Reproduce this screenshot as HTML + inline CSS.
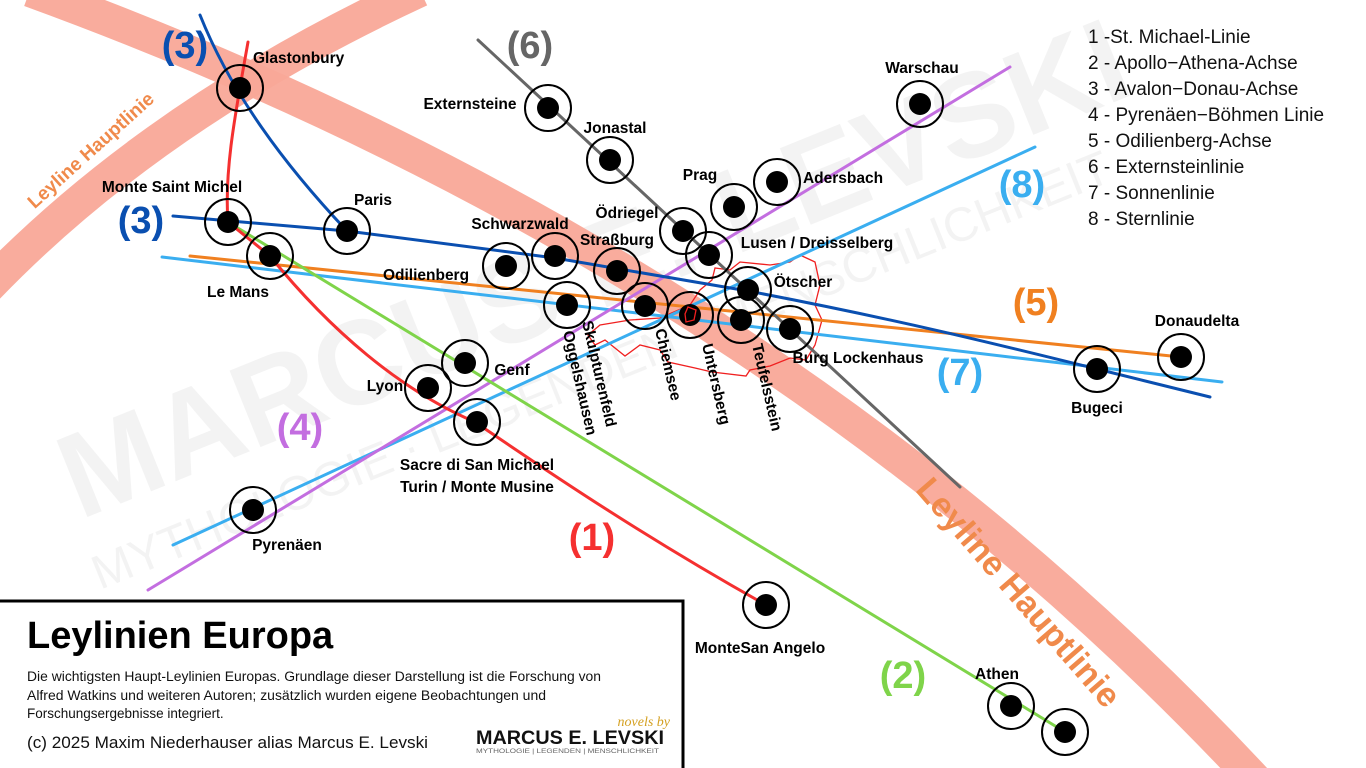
<!DOCTYPE html>
<html><head><meta charset="utf-8"><style>
html,body{margin:0;padding:0;background:#fff;width:1366px;height:768px;overflow:hidden}
svg{display:block;font-family:"Liberation Sans","DejaVu Sans",sans-serif}
.l{font-weight:bold;font-size:15.5px;fill:#000}
</style></head><body>
<svg width="1366" height="768" viewBox="0 0 1366 768">
<!-- watermark -->
<g fill="#000" opacity="0.045" font-weight="bold">
<text x="80" y="520" font-size="120" transform="rotate(-22 80 520)">MARCUS E. LEVSKI</text>
<text x="100" y="590" font-size="48" font-weight="normal" transform="rotate(-22 100 590)">MYTHOLOGIE · LEGENDEN · MENSCHLICHKEIT</text>
</g>
<!-- leyline bands -->
<path d="M30,-10 Q770,260 1255,780" stroke="#f9a898" stroke-width="34" fill="none" opacity="0.95"/>
<path d="M-20,295 Q150,115 420,-10" stroke="#f9a898" stroke-width="34" fill="none" opacity="0.95"/>
<text x="95" y="155" font-size="19" font-weight="bold" fill="#f08a4b" text-anchor="middle" transform="rotate(-42 95 155)">Leyline Hauptlinie</text>
<text x="1010" y="600" font-size="34" font-weight="bold" fill="#f08a4b" text-anchor="middle" transform="rotate(49 1010 600)">Leyline Hauptlinie</text>
<!-- Austria outline -->
<path d="M600,325 L630,320 L660,318 L690,305 L700,290 L712,280 L715,268 L730,270 L740,262 L770,265 L790,262 L800,255 L815,262 L820,285 L815,305 L822,320 L815,345 L806,360 L790,358 L770,366 L750,370 L746,376 L712,372 L695,368 L668,362 L660,350 L640,345 L625,356 L605,340 L595,345 L588,335 Z" fill="none" stroke="#f02020" stroke-width="1.3"/>
<!-- lines -->
<g fill="none" stroke-width="3" stroke-linecap="round">
<path d="M173,545 L1035,147" stroke="#3aaef0"/>
<path d="M162,257 L1222,382" stroke="#3aaef0"/>
<path d="M190,256 L1181,357" stroke="#f08020"/>
<path d="M148,590 L1010,67" stroke="#c36ee0"/>
<path d="M228,222 L1065,732" stroke="#7fd44a"/>
<path d="M478,40 L960,487" stroke="#666"/>
<path d="M248,42 C236,110 224,170 228,222 L270,256 C330,330 400,390 475,422 C560,480 650,540 766,605" stroke="#f53030"/>
<path d="M200,15 C230,90 280,160 347,231" stroke="#0a4fb0"/>
<path d="M173,216 L347,231 L555,258 L748,291 C900,320 1000,345 1097,369 L1210,397" stroke="#0a4fb0"/>
</g>
<!-- nodes -->
<g stroke="#000" stroke-width="2" fill="none">
<circle cx="240" cy="88" r="23"/><circle cx="228" cy="222" r="23"/><circle cx="270" cy="256" r="23"/><circle cx="347" cy="231" r="23"/>
<circle cx="548" cy="108" r="23"/><circle cx="610" cy="160" r="23"/><circle cx="920" cy="104" r="23"/><circle cx="734" cy="207" r="23"/>
<circle cx="777" cy="182" r="23"/><circle cx="683" cy="231" r="23"/><circle cx="709" cy="255" r="23"/><circle cx="555" cy="256" r="23"/>
<circle cx="617" cy="271" r="23"/><circle cx="506" cy="266" r="23"/><circle cx="748" cy="290" r="23"/><circle cx="567" cy="305" r="23"/>
<circle cx="645" cy="306" r="23"/><circle cx="690" cy="315" r="23"/><circle cx="741" cy="320" r="23"/><circle cx="790" cy="329" r="23"/>
<circle cx="465" cy="363" r="23"/><circle cx="428" cy="388" r="23"/><circle cx="477" cy="422" r="23"/><circle cx="253" cy="510" r="23"/>
<circle cx="766" cy="605" r="23"/><circle cx="1097" cy="369" r="23"/><circle cx="1181" cy="357" r="23"/><circle cx="1011" cy="706" r="23"/><circle cx="1065" cy="732" r="23"/>
</g>
<g fill="#000">
<circle cx="240" cy="88" r="11"/><circle cx="228" cy="222" r="11"/><circle cx="270" cy="256" r="11"/><circle cx="347" cy="231" r="11"/>
<circle cx="548" cy="108" r="11"/><circle cx="610" cy="160" r="11"/><circle cx="920" cy="104" r="11"/><circle cx="734" cy="207" r="11"/>
<circle cx="777" cy="182" r="11"/><circle cx="683" cy="231" r="11"/><circle cx="709" cy="255" r="11"/><circle cx="555" cy="256" r="11"/>
<circle cx="617" cy="271" r="11"/><circle cx="506" cy="266" r="11"/><circle cx="748" cy="290" r="11"/><circle cx="567" cy="305" r="11"/>
<circle cx="645" cy="306" r="11"/><circle cx="690" cy="315" r="11"/><circle cx="741" cy="320" r="11"/><circle cx="790" cy="329" r="11"/>
<circle cx="465" cy="363" r="11"/><circle cx="428" cy="388" r="11"/><circle cx="477" cy="422" r="11"/><circle cx="253" cy="510" r="11"/>
<circle cx="766" cy="605" r="11"/><circle cx="1097" cy="369" r="11"/><circle cx="1181" cy="357" r="11"/><circle cx="1011" cy="706" r="11"/><circle cx="1065" cy="732" r="11"/>
</g>
<path d="M688,307 L696,310 L694,320 L686,322 L685,314 Z" fill="none" stroke="#f02020" stroke-width="1.3"/>
<!-- labels -->
<g class="l">
<text x="253" y="63" class="l">Glastonbury</text>
<text x="172" y="192" class="l" text-anchor="middle">Monte Saint Michel</text>
<text x="238" y="297" class="l" text-anchor="middle">Le Mans</text>
<text x="373" y="205" class="l" text-anchor="middle">Paris</text>
<text x="470" y="109" class="l" text-anchor="middle">Externsteine</text>
<text x="615" y="133" class="l" text-anchor="middle">Jonastal</text>
<text x="922" y="73" class="l" text-anchor="middle">Warschau</text>
<text x="700" y="180" class="l" text-anchor="middle">Prag</text>
<text x="843" y="183" class="l" text-anchor="middle">Adersbach</text>
<text x="627" y="218" class="l" text-anchor="middle">Ödriegel</text>
<text x="817" y="248" class="l" text-anchor="middle">Lusen / Dreisselberg</text>
<text x="520" y="229" class="l" text-anchor="middle">Schwarzwald</text>
<text x="617" y="245" class="l" text-anchor="middle">Straßburg</text>
<text x="426" y="280" class="l" text-anchor="middle">Odilienberg</text>
<text x="803" y="287" class="l" text-anchor="middle">Ötscher</text>
<text x="858" y="363" class="l" text-anchor="middle">Burg Lockenhaus</text>
<text x="512" y="375" class="l" text-anchor="middle">Genf</text>
<text x="385" y="391" class="l" text-anchor="middle">Lyon</text>
<text x="477" y="470" class="l" text-anchor="middle">Sacre di San Michael</text>
<text x="477" y="492" class="l" text-anchor="middle">Turin / Monte Musine</text>
<text x="287" y="550" class="l" text-anchor="middle">Pyrenäen</text>
<text x="760" y="653" class="l" text-anchor="middle">MonteSan Angelo</text>
<text x="1097" y="413" class="l" text-anchor="middle">Bugeci</text>
<text x="1197" y="326" class="l" text-anchor="middle">Donaudelta</text>
<text x="997" y="679" class="l" text-anchor="middle">Athen</text>
<text x="582" y="322" class="l" transform="rotate(77 582 322)">Skulpturenfeld</text>
<text x="563" y="332" class="l" transform="rotate(77 563 332)">Oggelshausen</text>
<text x="655" y="330" class="l" transform="rotate(77 655 330)">Chiemsee</text>
<text x="702" y="345" class="l" transform="rotate(77 702 345)">Untersberg</text>
<text x="752" y="345" class="l" transform="rotate(77 752 345)">Teufelsstein</text>
</g>
<!-- numbers -->
<g font-size="38" font-weight="bold" text-anchor="middle">
<text x="185" y="58" fill="#0a4fb0">(3)</text>
<text x="141" y="233" fill="#0a4fb0">(3)</text>
<text x="530" y="58" fill="#666">(6)</text>
<text x="1022" y="197" fill="#3aaef0">(8)</text>
<text x="1036" y="315" fill="#f08020">(5)</text>
<text x="960" y="385" fill="#3aaef0">(7)</text>
<text x="300" y="440" fill="#c36ee0">(4)</text>
<text x="592" y="550" fill="#f53030">(1)</text>
<text x="903" y="688" fill="#7fd44a">(2)</text>
</g>
<!-- legend -->
<g font-size="19" fill="#111">
<text x="1088" y="43">1 -St. Michael-Linie</text>
<text x="1088" y="69">2 - Apollo−Athena-Achse</text>
<text x="1088" y="95">3 - Avalon−Donau-Achse</text>
<text x="1088" y="121">4 - Pyrenäen−Böhmen Linie</text>
<text x="1088" y="147">5 - Odilienberg-Achse</text>
<text x="1088" y="173">6 - Externsteinlinie</text>
<text x="1088" y="199">7 - Sonnenlinie</text>
<text x="1088" y="225">8 - Sternlinie</text>
</g>
<!-- info box -->
<rect x="-3" y="601" width="686" height="172" fill="#fff" stroke="#000" stroke-width="3"/>
<text x="27" y="648" font-size="38" font-weight="bold">Leylinien Europa</text>
<g font-size="13.5" fill="#111">
<text x="27" y="681" textLength="574" lengthAdjust="spacingAndGlyphs">Die wichtigsten Haupt-Leylinien Europas. Grundlage dieser Darstellung ist die Forschung von</text>
<text x="27" y="700" textLength="519" lengthAdjust="spacingAndGlyphs">Alfred Watkins und weiteren Autoren; zusätzlich wurden eigene Beobachtungen und</text>
<text x="27" y="718">Forschungsergebnisse integriert.</text>
</g>
<text x="27" y="748" font-size="17" fill="#111" textLength="401" lengthAdjust="spacingAndGlyphs">(c) 2025 Maxim Niederhauser alias Marcus E. Levski</text>
<text x="670" y="726" font-size="14" font-style="italic" fill="#d4a020" text-anchor="end" font-family="Liberation Serif,serif">novels by</text>
<text x="476" y="744" font-size="19" font-weight="bold" fill="#111" textLength="188" lengthAdjust="spacingAndGlyphs">MARCUS E. LEVSKI</text>
<text x="476" y="753" font-size="6.5" fill="#666" textLength="183" lengthAdjust="spacingAndGlyphs">MYTHOLOGIE  |  LEGENDEN  |  MENSCHLICHKEIT</text>
</svg>
</body></html>
